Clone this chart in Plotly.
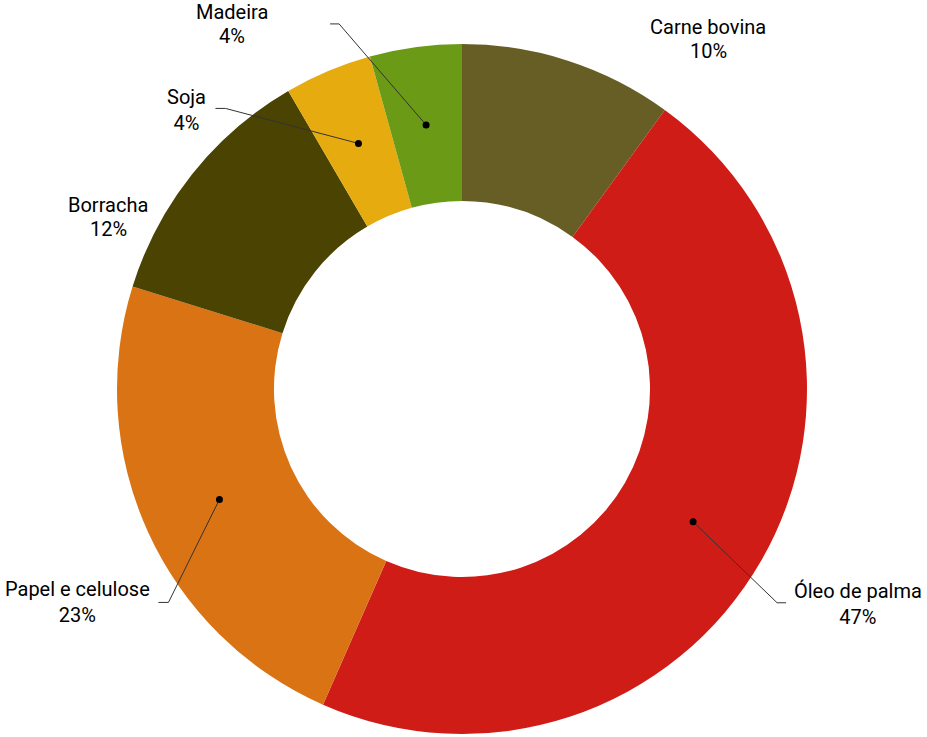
import math
import plotly.graph_objects as go

# ---------------- data ----------------
categories = ["Carne bovina", "Óleo de palma", "Papel e celulose", "Borracha", "Soja", "Madeira"]
values = [10.0, 46.6, 23.2, 11.8, 4.1, 4.3]
colors = ["#665e25", "#cf1c17", "#d97314", "#4a4301", "#e6ab0f", "#6a9a16"]

# ---------------- layout / style ----------------
W, H = 927, 737
CX, CY, R_OUT = 462, 389, 345          # pie centre and outer radius (px)
HOLE = 0.545
FONT = dict(family="Roboto", size=20, color="#000000")
LINE_GAP = 24                           # px between label lines
# label placement relative to the slice dot (px, y downward)
# leader: (elbow_dx, elbow_dy, tail_len) ; text: (dx, dy, anchor)
LABEL_STYLE = {
    "Carne bovina":     dict(leader=None,             text=(164, -97, "center")),
    "Óleo de palma":    dict(leader=(84, 81, 9),      text=(99, 82, "left")),
    "Papel e celulose": dict(leader=(-51, 103, -10),  text=(-67, 103, "right")),
    "Borracha":         dict(leader=None,             text=(-145, -6, "center")),
    "Soja":             dict(leader=(-133, -35, -10), text=(-150, -33, "right")),
    "Madeira":          dict(leader=(-87, -101, -9),  text=(-194, -101, "center")),
}


def px_to_paper(x, y):
    return x / W, 1 - y / H


fig = go.Figure(
    go.Pie(
        labels=categories,
        values=values,
        sort=False,
        direction="clockwise",
        rotation=0,
        hole=HOLE,
        textinfo="none",
        marker=dict(colors=colors, line=dict(width=0)),
        hovertemplate="%{label}: %{percent}<extra></extra>",
        showlegend=False,
        domain=dict(
            x=[(CX - R_OUT) / W, (CX + R_OUT) / W],
            y=[1 - (CY + R_OUT) / H, 1 - (CY - R_OUT) / H],
        ),
    )
)

total = sum(values)
r_mid = R_OUT * (1 + HOLE) / 2
shapes = []
annotations = []
cum = 0.0
for name, v in zip(categories, values):
    mid = (cum + v / 2) / total * 2 * math.pi
    cum += v
    px = CX + math.sin(mid) * r_mid
    py = CY - math.cos(mid) * r_mid
    st = LABEL_STYLE[name]
    if st["leader"] is not None:
        ex, ey, tl = st["leader"]
        x0, y0 = px_to_paper(px, py)
        x1, y1 = px_to_paper(px + ex, py + ey)
        x2, y2 = px_to_paper(px + ex + tl, py + ey)
        shapes.append(dict(type="path", xref="paper", yref="paper",
                           path=f"M {x0} {y0} L {x1} {y1} L {x2} {y2}",
                           line=dict(color="#333333", width=1)))
        rr = 3.5
        shapes.append(dict(type="circle", xref="paper", yref="paper",
                           x0=(px - rr) / W, x1=(px + rr) / W,
                           y0=1 - (py + rr) / H, y1=1 - (py - rr) / H,
                           fillcolor="#000000", line=dict(width=0)))
    tdx, tdy, anchor = st["text"]
    pct = f"{round(100 * v / total)}%"
    if anchor == "center":
        for txt, off in ((name, -LINE_GAP / 2), (pct, LINE_GAP / 2)):
            ax_, ay_ = px_to_paper(px + tdx, py + tdy + off)
            annotations.append(dict(x=ax_, y=ay_, xref="paper", yref="paper",
                                    text=txt, showarrow=False, xanchor="center",
                                    yanchor="middle", font=FONT))
    else:
        ax_, ay_ = px_to_paper(px + tdx, py + tdy)
        annotations.append(dict(x=ax_, y=ay_, xref="paper", yref="paper",
                                text=f"{name}<br>{pct}", showarrow=False,
                                xanchor=anchor, yanchor="middle", align="center",
                                font=FONT))

fig.update_layout(
    width=W, height=H,
    margin=dict(l=0, r=0, t=0, b=0),
    paper_bgcolor="#ffffff",
    plot_bgcolor="#ffffff",
    shapes=shapes,
    annotations=annotations,
    font=FONT,
)

fig.write_html("out.html", config={"displayModeBar": False},
               post_script="document.body.style.margin='0';")
